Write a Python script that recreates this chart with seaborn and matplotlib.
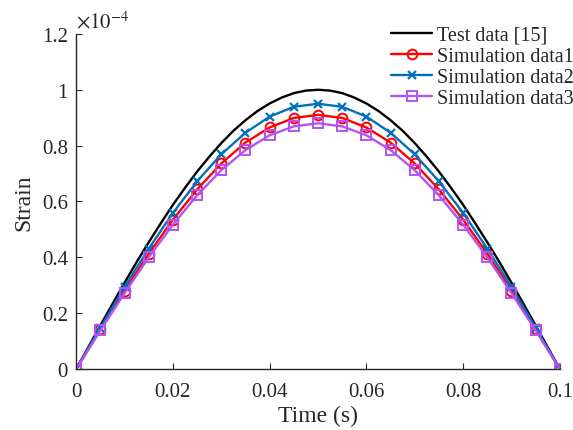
import matplotlib
matplotlib.use('Agg')
import matplotlib.pyplot as plt
import seaborn as sns
import pandas as pd

# Test data (smooth curve), strain in units of 1e-4
test_time = [i * 0.0025 for i in range(41)]
test_strain = [0, 0.078, 0.156, 0.233, 0.309, 0.383, 0.454, 0.522, 0.588, 0.649,
               0.707, 0.760, 0.809, 0.853, 0.891, 0.924, 0.951, 0.972, 0.988, 0.997,
               1.0,
               0.997, 0.988, 0.972, 0.951, 0.924, 0.891, 0.853, 0.809, 0.760, 0.707,
               0.649, 0.588, 0.522, 0.454, 0.383, 0.309, 0.233, 0.156, 0.078, 0]

# Simulation data at 0.005 s steps
sim_time = [i * 0.005 for i in range(21)]
sim1 = [0, 0.142, 0.281, 0.413, 0.535, 0.643, 0.736, 0.811, 0.865, 0.899, 0.91,
        0.899, 0.865, 0.811, 0.736, 0.643, 0.535, 0.413, 0.281, 0.142, 0]
sim2 = [0, 0.148, 0.294, 0.431, 0.559, 0.672, 0.769, 0.846, 0.904, 0.939, 0.95,
        0.939, 0.904, 0.846, 0.769, 0.672, 0.559, 0.431, 0.294, 0.148, 0]
sim3 = [0, 0.138, 0.272, 0.400, 0.517, 0.622, 0.712, 0.784, 0.837, 0.869, 0.88,
        0.869, 0.837, 0.784, 0.712, 0.622, 0.517, 0.400, 0.272, 0.138, 0]

x_ticks = [0, 0.02, 0.04, 0.06, 0.08, 0.1]
x_labels = ['0', '0.02', '0.04', '0.06', '0.08', '0.1']
y_ticks = [0, 0.2, 0.4, 0.6, 0.8, 1.0, 1.2]
y_labels = ['0', '0.2', '0.4', '0.6', '0.8', '1', '1.2']

sns.set_style('ticks')
plt.rcParams['font.family'] = ['Liberation Serif', 'DejaVu Serif']
plt.rcParams['mathtext.fontset'] = 'stix'

fig = plt.figure(figsize=(5.73, 4.31), dpi=100)
ax = fig.add_axes([0.133, 0.1415, 0.844, 0.7775])

test_df = pd.DataFrame({'t': test_time, 's': test_strain})
sim_df = pd.DataFrame({'t': sim_time, 's1': sim1, 's2': sim2, 's3': sim3})

sns.lineplot(data=test_df, x='t', y='s', ax=ax, color='black', linewidth=1.7,
             label='Test data [15]')
sns.lineplot(data=sim_df, x='t', y='s1', ax=ax, color='#FF0000', linewidth=1.7,
             marker='o', markersize=7, markerfacecolor='none', markeredgecolor='#FF0000',
             markeredgewidth=1.4, label='Simulation data1')
sns.lineplot(data=sim_df, x='t', y='s2', ax=ax, color='#0072BD', linewidth=1.7,
             marker='x', markersize=6, markeredgecolor='#0072BD',
             markeredgewidth=1.6, label='Simulation data2')
sns.lineplot(data=sim_df, x='t', y='s3', ax=ax, color='#B552F5', linewidth=1.7,
             marker='s', markersize=6.5, markerfacecolor='none', markeredgecolor='#B552F5',
             markeredgewidth=1.4, label='Simulation data3')

ax.set_xlim(0, 0.1)
ax.set_ylim(0, 1.2)
ax.set_xticks(x_ticks)
ax.set_xticklabels(x_labels)
ax.set_yticks(y_ticks)
ax.set_yticklabels(y_labels)
ax.tick_params(direction='in', length=4, width=0.8, labelsize=15, colors='#262626')
ax.tick_params(axis='x', pad=9)
ax.tick_params(axis='y', pad=6)
for side in ['top', 'right']:
    ax.spines[side].set_visible(False)
for side in ['left', 'bottom']:
    ax.spines[side].set_linewidth(1.0)
    ax.spines[side].set_color('#262626')

ax.set_xlabel('Time (s)', fontsize=17, color='#262626', labelpad=3)
ax.set_ylabel('Strain', fontsize=17, color='#262626', labelpad=5)
ax.text(0.0, 1.005, r'$\times10^{-4}$', transform=ax.transAxes, fontsize=15,
        color='#262626', ha='left', va='bottom')

leg = ax.legend(loc='upper left', frameon=False, fontsize=14.5, handlelength=2.05,
                handletextpad=0.25, labelspacing=0.1, borderaxespad=0.0,
                borderpad=0.0, bbox_to_anchor=(0.651, 1.025))

fig.savefig('out.png', dpi=100)
